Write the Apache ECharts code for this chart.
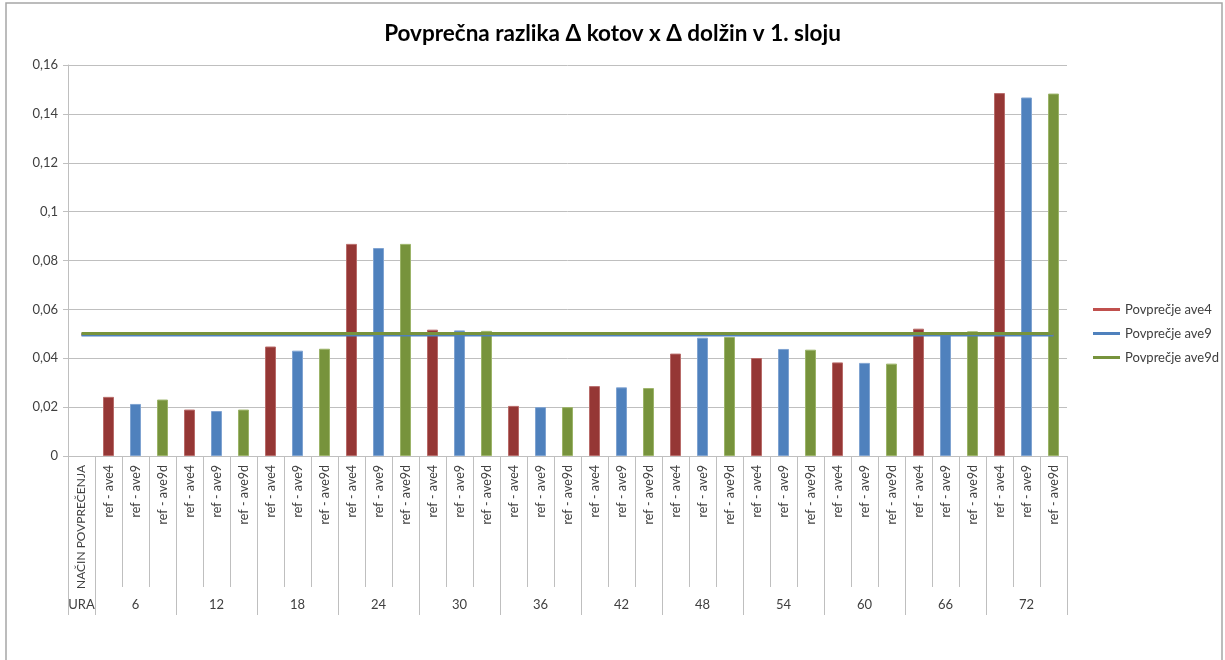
<!DOCTYPE html>
<html>
<head>
<meta charset="utf-8">
<title>Povprečna razlika</title>
<script src="https://cdn.jsdelivr.net/npm/echarts@6/dist/echarts.min.js"></script>
<style>
  html, body { margin: 0; padding: 0; background: #ffffff; }
  #chart { width: 1225px; height: 660px; }
</style>
</head>
<body>
<div id="chart"></div>
<script>
// Hours (URA) and averaging methods (NAČIN POVPREČENJA)
const hours = ['6', '12', '18', '24', '30', '36', '42', '48', '54', '60', '66', '72'];
const methods = ['ref - ave4', 'ref - ave9', 'ref - ave9d'];

// Mean difference per hour for each averaging method
const ave4 = [0.0242, 0.0190, 0.0448, 0.0868, 0.0517, 0.0205, 0.0286, 0.0419, 0.0401, 0.0383, 0.0521, 0.1485];
const ave9 = [0.0213, 0.0184, 0.0431, 0.0851, 0.0514, 0.0200, 0.0281, 0.0484, 0.0438, 0.0381, 0.0495, 0.1467];
const ave9d = [0.0231, 0.0190, 0.0439, 0.0868, 0.0512, 0.0200, 0.0278, 0.0487, 0.0435, 0.0378, 0.0510, 0.1483];

// Overall average of each method
const averages = [0.0497, 0.0495, 0.0501];
const averageNames = ['Povprečje ave4', 'Povprečje ave9', 'Povprečje ave9d'];

// Y axis ticks
const yMin = 0, yMax = 0.16, yStep = 0.02;

const barColors = ['#953735', '#4F81BD', '#77933C'];
const barBorders = ['#B86B69', '#7FA3D1', '#9CB469'];
const lineColors = ['#C0504D', '#4F81BD', '#77933C'];

// Lower row: one leading header column, then three methods per hour
const lowerLabels = ['NAČIN POVPREČENJA'];
const upperLabels = ['URA'];
hours.forEach(function (h) {
  methods.forEach(function (m, j) {
    lowerLabels.push(m);
    upperLabels.push(j === 1 ? h : '');
  });
});
const nCats = lowerLabels.length;

// Place each method's values in its own column slots
function slotted(values, methodIdx) {
  const out = new Array(nCats).fill('-');
  values.forEach(function (v, i) { out[1 + i * 3 + methodIdx] = v; });
  return out;
}

const seriesValues = [ave4, ave9, ave9d];
const font = 'Lato, "Open Sans", sans-serif';

const series = [];
seriesValues.forEach(function (vals, k) {
  series.push({
    name: methods[k],
    type: 'bar',
    stack: 'bars',
    barWidth: 11,
    data: slotted(vals, k),
    itemStyle: { color: barColors[k], borderColor: barBorders[k], borderWidth: 1 },
    emphasis: { disabled: true },
    z: 2
  });
});
averages.forEach(function (a, k) {
  series.push({
    name: averageNames[k],
    type: 'line',
    data: new Array(nCats).fill(a),
    symbol: 'none',
    lineStyle: { color: lineColors[k], width: 3 },
    itemStyle: { color: lineColors[k] },
    emphasis: { disabled: true },
    z: 5 + k
  });
});

const chart = echarts.init(document.getElementById('chart'), null, { renderer: 'canvas' });
chart.setOption({
  backgroundColor: '#ffffff',
  animation: false,
  title: {
    text: 'Povprečna razlika Δ kotov x Δ dolžin v 1. sloju',
    left: 'center',
    top: 17,
    textStyle: { fontFamily: font, fontSize: 22.5, fontWeight: 'bold', color: '#000000' }
  },
  graphic: [{
    type: 'rect',
    shape: { x: 6, y: 3, width: 1216, height: 720 },
    style: { fill: 'none', stroke: '#A6A6A6', lineWidth: 1.5 },
    silent: true
  }],
  legend: {
    orient: 'vertical',
    left: 1088,
    top: 298,
    icon: 'rect',
    itemWidth: 27,
    itemHeight: 3,
    itemGap: 11,
    data: averageNames,
    textStyle: { fontFamily: font, fontSize: 13, color: '#404040' }
  },
  grid: {
    left: 68, right: 158, top: 65, bottom: 204,
    outerBoundsMode: 'none'
  },
  xAxis: [{
    type: 'category',
    data: lowerLabels,
    axisLine: { show: true, lineStyle: { color: '#BFBFBF' } },
    axisTick: { show: true, interval: 0, length: 131, lineStyle: { color: '#BFBFBF' } },
    axisLabel: {
      interval: 0, rotate: 90, margin: 9,
      fontFamily: font, fontSize: 12.5, color: '#404040',
      formatter: function (v, i) { return i === 0 ? '{h|' + v + '}' : v; },
      rich: { h: { fontFamily: font, fontSize: 12, color: '#404040' } }
    },
    splitLine: { show: false }
  }, {
    type: 'category',
    position: 'bottom',
    data: upperLabels,
    axisLine: { show: false },
    axisTick: {
      show: true, length: 159,
      interval: function (i) { return i === 0 || (i - 1) % 3 === 0; },
      lineStyle: { color: '#BFBFBF' }
    },
    axisLabel: {
      interval: 0, margin: 142,
      fontFamily: font, fontSize: 13, color: '#404040'
    },
    splitLine: { show: false }
  }],
  yAxis: {
    type: 'value',
    min: yMin, max: yMax, interval: yStep,
    axisLine: { show: true, lineStyle: { color: '#BFBFBF' } },
    axisTick: { show: true, length: 5, lineStyle: { color: '#BFBFBF' } },
    axisLabel: {
      margin: 10,
      fontFamily: font, fontSize: 13, color: '#404040',
      formatter: function (v) { return String(+v.toFixed(4)).replace('.', ','); }
    },
    splitLine: { show: true, lineStyle: { color: '#BFBFBF' } }
  },
  series: series
});
</script>
</body>
</html>
